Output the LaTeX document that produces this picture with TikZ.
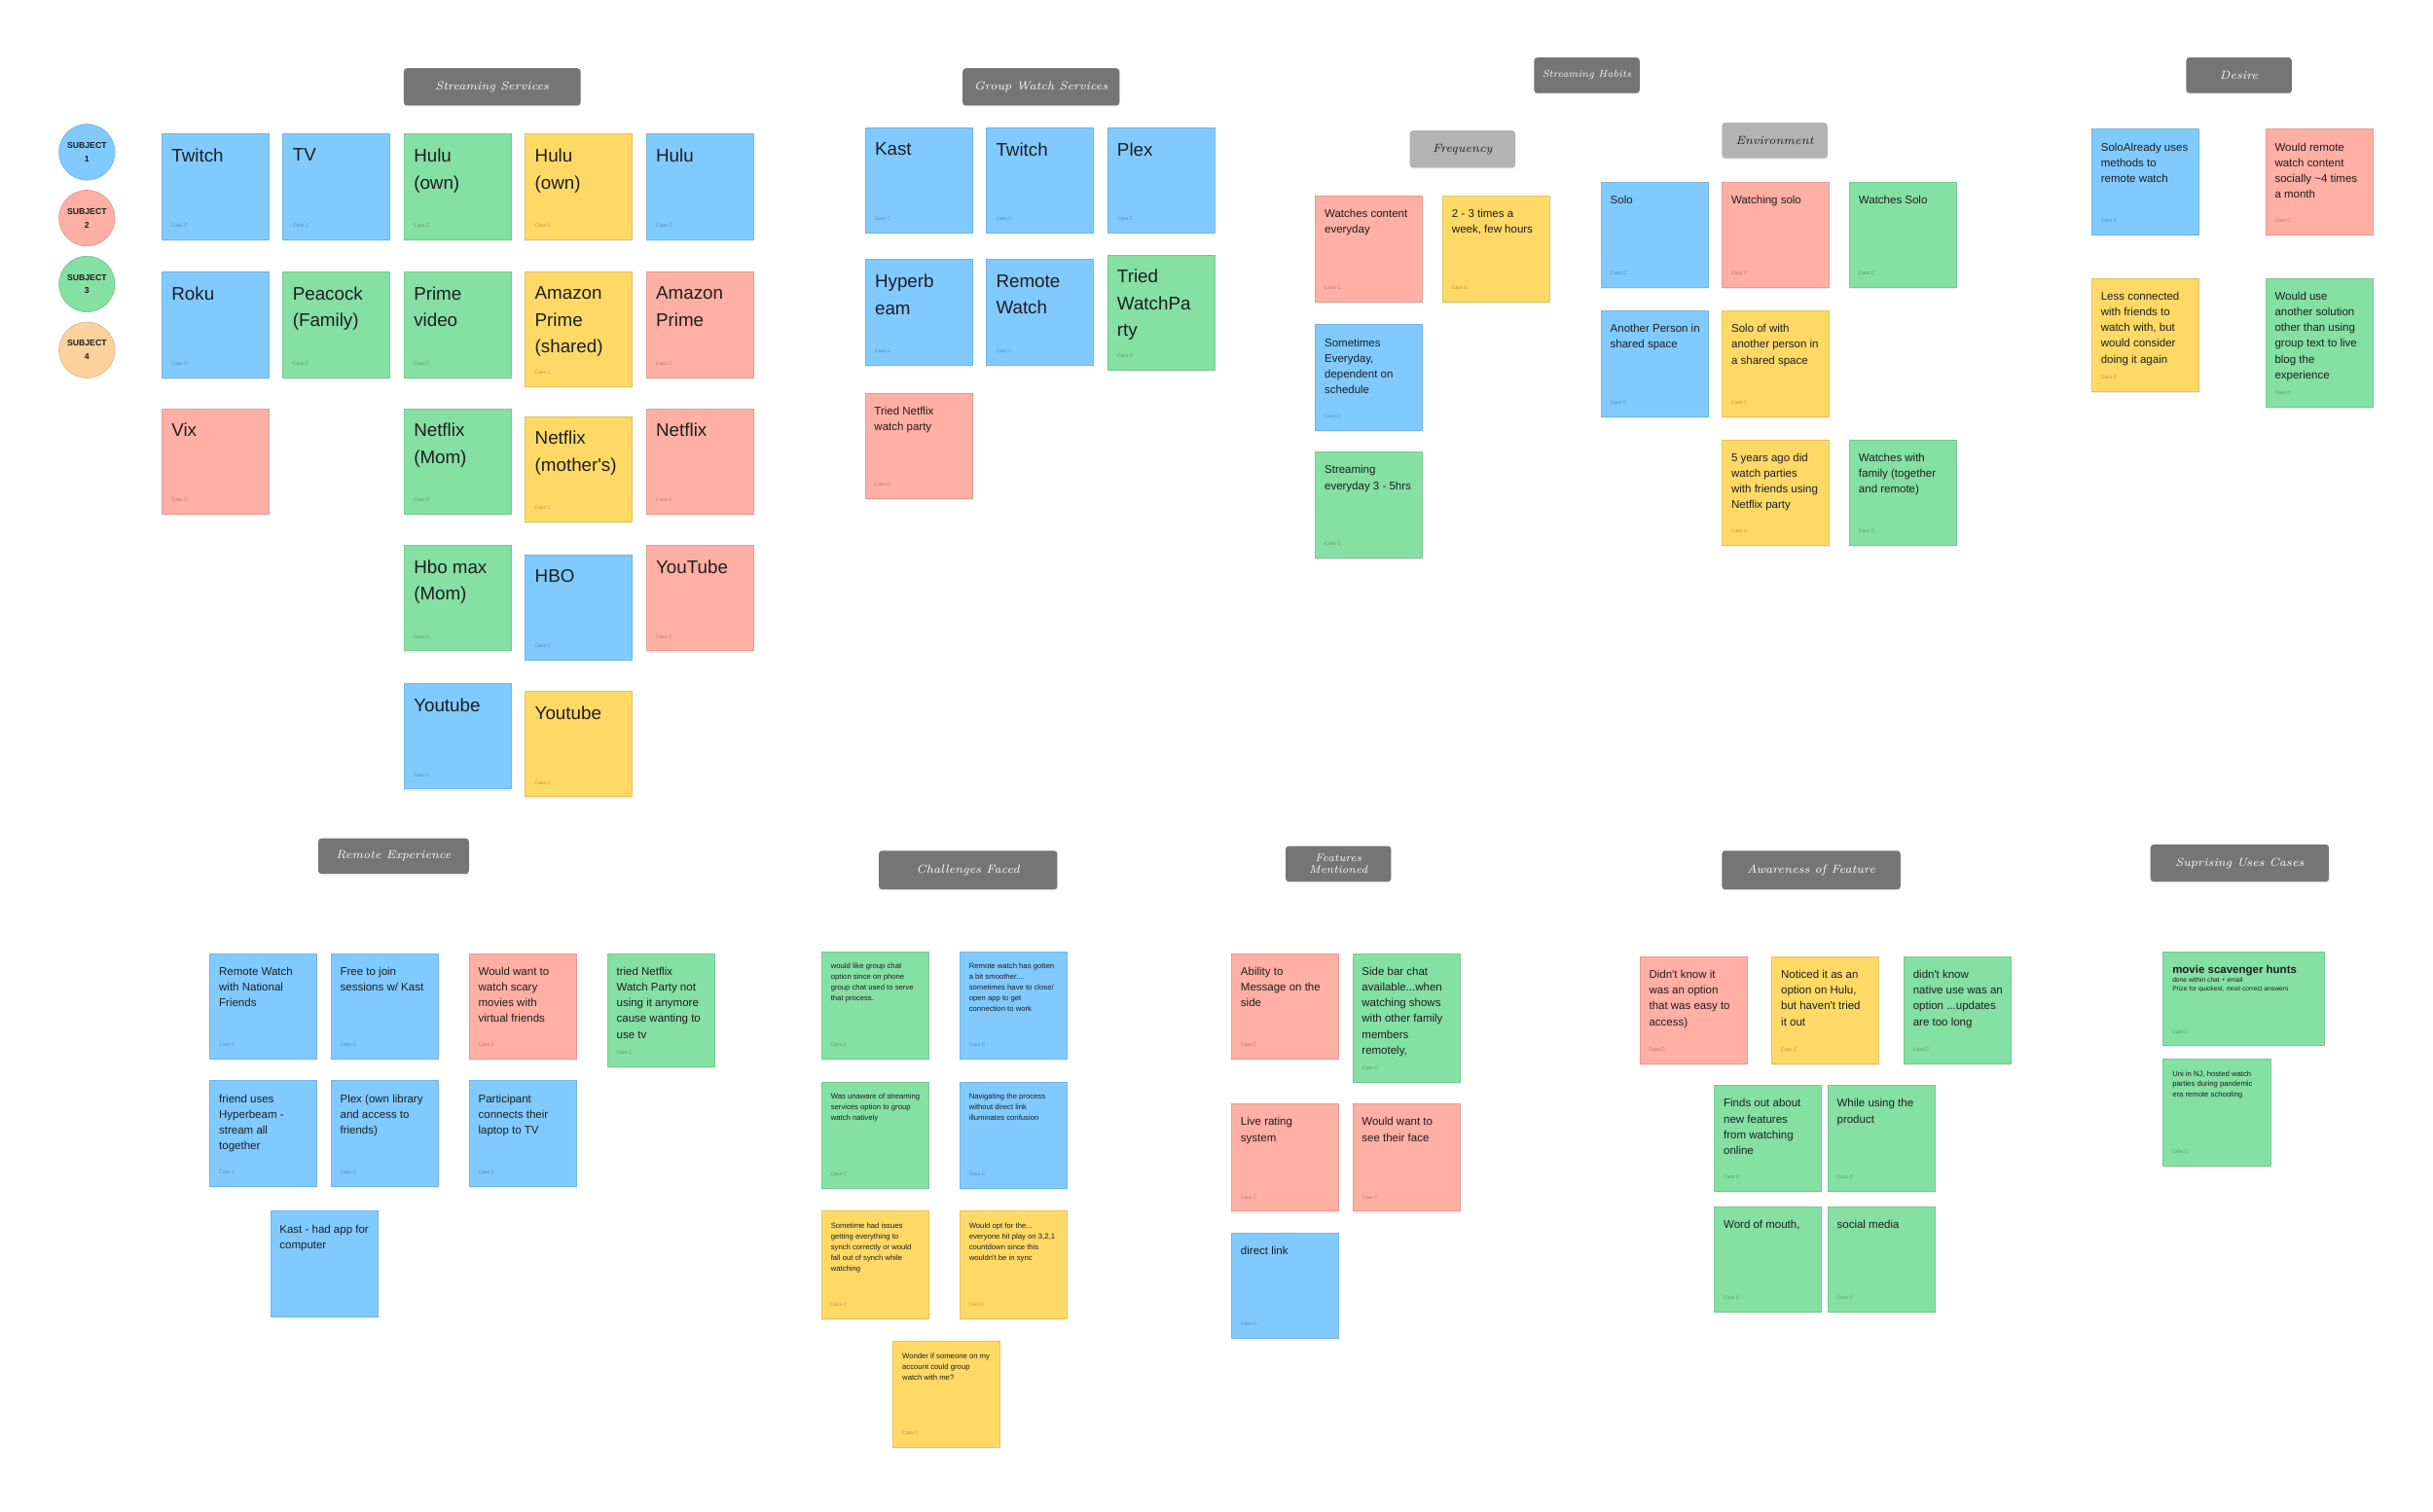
\documentclass[tikz,border=0pt]{standalone}
\usepackage{fontspec}
\newfontfamily\stkfont{Liberation Sans}
\usetikzlibrary{shadows}
\definecolor{sblue}{HTML}{80CAFF}
\definecolor{sgreen}{HTML}{85E0A3}
\definecolor{syellow}{HTML}{FFD966}
\definecolor{sred}{HTML}{FFAFA3}
\definecolor{speach}{HTML}{FCD19C}
\definecolor{hdark}{HTML}{757575}
\definecolor{hlight}{HTML}{B3B3B3}
\definecolor{ink}{HTML}{1E1E1E}
\def\pxB{0.124cm}\def\pyB{0.19cm}
\def\pxM{0.116cm}\def\pyM{0.172cm}
\def\pxS{0.116cm}\def\pyS{0.148cm}
\tikzset{
  sticky/.style={rectangle, inner sep=0pt, minimum width=1.38cm, anchor=north west, line width=0.12pt,
    drop shadow={opacity=0.14, shadow xshift=0pt, shadow yshift=-0.7pt}},
  txtB/.style={anchor=north west, inner sep=0pt, align=left, text=ink, font=\stkfont\fontsize{6.7}{9.8}\selectfont},
  txtM/.style={anchor=north west, inner sep=0pt, align=left, text=ink, font=\stkfont\fontsize{4.1}{5.8}\selectfont},
  txtS/.style={anchor=north west, inner sep=0pt, align=left, text=ink, font=\stkfont\fontsize{2.75}{3.9}\selectfont},
  cass/.style={anchor=base west, inner sep=0pt, text=black, text opacity=0.32, font=\stkfont\fontsize{1.8}{2}\selectfont},
  hdr/.style={rectangle, rounded corners=1.2pt, inner sep=0pt, fill=hdark, text=white, align=center,
    font=\itshape\fontsize{4.3}{4.4}\selectfont, drop shadow={opacity=0.12, shadow xshift=0pt, shadow yshift=-0.5pt}},
  hdrlight/.style={hdr, fill=hlight, text=ink},
  subj/.style={circle, minimum size=0.72cm, inner sep=0pt, align=center, text=ink, line width=0.2pt,
    font=\stkfont\bfseries\fontsize{3.1}{4.9}\selectfont},
}
% sticky: name, x, ytop, height, colour, kind, text
\newcommand\stk[7]{%
  \node[sticky, fill=#5, draw=#5!90!black, minimum height={#4*0.02cm}] (#1) at (#2,#3) {};
  \node[txt#6] (#1t) at ([xshift=\csname px#6\endcsname, yshift=-\csname py#6\endcsname]#1.north west) {#7};
  \node[cass] (#1c) at ([xshift=\csname px#6\endcsname, yshift=0.16cm]#1.south west) {Cass C};}
\newcommand\stkn[7]{%
  \node[sticky, fill=#5, draw=#5!90!black, minimum height={#4*0.02cm}] (#1) at (#2,#3) {};
  \node[txt#6] (#1t) at ([xshift=\csname px#6\endcsname, yshift=-\csname py#6\endcsname]#1.north west) {#7};}
% header: name, cx, cy, w, h, style, text
\newcommand\hdrbox[7]{%
  \node[#6, minimum width={#4*0.02cm}, minimum height={#5*0.02cm}] (#1) at (#2,#3) {#7};}
\begin{document}
\begin{tikzpicture}[x=0.02cm, y=-0.02cm]
\useasboundingbox (0,0) rectangle (1567,974);
\fill[white] (0,0) rectangle (1567,974);

% ---------- headers ----------
\hdrbox{hss}{317}{56}{114}{24}{hdr}{Streaming Services}
\hdrbox{hgw}{670.5}{56}{101}{24}{hdr}{Group Watch Services}
\hdrbox{hsh}{1022}{48.5}{68}{23}{hdr, font=\itshape\fontsize{3.7}{4}\selectfont}{Streaming Habits}
\hdrbox{hfq}{942}{96}{68}{24}{hdrlight}{Frequency}
\hdrbox{hen}{1143}{90.5}{68}{23}{hdrlight}{Environment}
\hdrbox{hde}{1442}{48.5}{68}{23}{hdr}{Desire}
\hdrbox{hre}{253.5}{551.5}{97}{23}{hdr}{Remote Experience}
\hdrbox{hch}{623.5}{560.5}{115}{25}{hdr}{Challenges Faced}
\node[hdr, minimum width=1.36cm, minimum height=0.46cm, font=\itshape\fontsize{4}{4.4}\selectfont] (hfe) at (862,556.5) {Features\\Mentioned};
\hdrbox{haw}{1166.5}{560.5}{115}{25}{hdr}{Awareness of Feature}
\hdrbox{hsu}{1442.5}{556}{115}{24}{hdr}{Suprising Uses Cases}

% ---------- subjects ----------
\node[subj, fill=sblue, draw=sblue!85!black] (sub1) at (56,98) {SUBJECT\\1};
\node[subj, fill=sred, draw=sred!85!black] (sub2) at (56,140.5) {SUBJECT\\2};
\node[subj, fill=sgreen, draw=sgreen!85!black] (sub3) at (56,183) {SUBJECT\\3};
\node[subj, fill=speach, draw=speach!85!black] (sub4) at (56,225.5) {SUBJECT\\4};

% ---------- streaming services ----------
\stk{ss1}{104}{86}{68}{sblue}{B}{Twitch}
\stk{ss2}{182}{86}{68}{sblue}{B}{TV}
\stk{ss3}{260}{86}{68}{sgreen}{B}{Hulu\\(own)}
\stk{ss4}{338}{86}{68}{syellow}{B}{Hulu\\(own)}
\stk{ss5}{416}{86}{68}{sblue}{B}{Hulu}
\stk{ss6}{104}{175}{68}{sblue}{B}{Roku}
\stk{ss7}{182}{175}{68}{sgreen}{B}{Peacock\\(Family)}
\stk{ss8}{260}{175}{68}{sgreen}{B}{Prime\\video}
\stk{ss9}{338}{175}{74}{syellow}{B}{Amazon\\Prime\\(shared)}
\stk{ss10}{416}{175}{68}{sred}{B}{Amazon\\Prime}
\stk{ss11}{104}{263}{68}{sred}{B}{Vix}
\stk{ss12}{260}{263}{68}{sgreen}{B}{Netflix\\(Mom)}
\stk{ss13}{338}{268}{68}{syellow}{B}{Netflix\\(mother's)}
\stk{ss14}{416}{263}{68}{sred}{B}{Netflix}
\stk{ss15}{260}{351}{68}{sgreen}{B}{Hbo max\\(Mom)}
\stk{ss16}{338}{357}{68}{sblue}{B}{HBO}
\stk{ss17}{416}{351}{68}{sred}{B}{YouTube}
\stk{ss18}{260}{440}{68}{sblue}{B}{Youtube}
\stk{ss19}{338}{445}{68}{syellow}{B}{Youtube}

% ---------- group watch services ----------
\stk{gw1}{557}{82}{68}{sblue}{B}{Kast}
\stk{gw2}{635}{82}{68}{sblue}{B}{Twitch}
\stk{gw3}{713}{82}{68}{sblue}{B}{Plex}
\stk{gw4}{557}{167}{68}{sblue}{B}{Hyperb\\eam}
\stk{gw5}{635}{167}{68}{sblue}{B}{Remote\\Watch}
\stk{gw6}{713}{164}{74}{sgreen}{B}{Tried\\WatchPa\\rty}
\stk{gw7}{557}{253}{68}{sred}{M}{Tried Netflix\\watch party}

% ---------- streaming habits: frequency ----------
\stk{fq1}{847}{126}{68}{sred}{M}{Watches content\\everyday}
\stk{fq2}{929}{126}{68}{syellow}{M}{2 - 3 times a\\week, few hours}
\stk{fq3}{847}{209}{68}{sblue}{M}{Sometimes\\Everyday,\\dependent on\\schedule}
\stk{fq4}{847}{291}{68}{sgreen}{M}{Streaming\\everyday 3 - 5hrs}

% ---------- streaming habits: environment ----------
\stk{en1}{1031}{117}{68}{sblue}{M}{Solo}
\stk{en2}{1109}{117}{68}{sred}{M}{Watching solo}
\stk{en3}{1191}{117}{68}{sgreen}{M}{Watches Solo}
\stk{en4}{1031}{200}{68}{sblue}{M}{Another Person in\\shared space}
\stk{en5}{1109}{200}{68}{syellow}{M}{Solo of with\\another person in\\a shared space}
\stk{en6}{1109}{283}{68}{syellow}{M}{5 years ago did\\watch parties\\with friends using\\Netflix party}
\stk{en7}{1191}{283}{68}{sgreen}{M}{Watches with\\family (together\\and remote)}

% ---------- desire ----------
\stk{de1}{1347}{83}{68}{sblue}{M}{SoloAlready uses\\methods to\\remote watch}
\stk{de2}{1459}{83}{68}{sred}{M}{Would remote\\watch content\\socially \textasciitilde4 times\\a month}
\stk{de3}{1347}{179}{73}{syellow}{M}{Less connected\\with friends to\\watch with, but\\would consider\\doing it again}
\stk{de4}{1459}{179}{83}{sgreen}{M}{Would use\\another solution\\other than using\\group text to live\\blog the\\experience}

% ---------- remote experience ----------
\stk{re1}{135}{614}{68}{sblue}{M}{Remote Watch\\with National\\Friends}
\stk{re2}{213}{614}{68}{sblue}{M}{Free to join\\sessions w/ Kast}
\stk{re3}{302}{614}{68}{sred}{M}{Would want to\\watch scary\\movies with\\virtual friends}
\stk{re4}{391}{614}{73}{sgreen}{M}{tried Netflix\\Watch Party not\\using it anymore\\cause wanting to\\use tv}
\stk{re5}{135}{696}{68}{sblue}{M}{friend uses\\Hyperbeam -\\stream all\\together}
\stk{re6}{213}{696}{68}{sblue}{M}{Plex (own library\\and access to\\friends)}
\stk{re7}{302}{696}{68}{sblue}{M}{Participant\\connects their\\laptop to TV}
\stkn{re8}{174}{780}{68}{sblue}{M}{Kast - had app for\\computer}

% ---------- challenges faced ----------
\stk{ch1}{529}{613}{69}{sgreen}{S}{would like group chat\\option since on phone\\group chat used to serve\\that process.}
\stk{ch2}{618}{613}{69}{sblue}{S}{Remote watch has gotten\\a bit smoother....\\sometimes have to close/\\open app to get\\connection to work}
\stk{ch3}{529}{697}{68}{sgreen}{S}{Was unaware of streaming\\services option to group\\watch natively}
\stk{ch4}{618}{697}{68}{sblue}{S}{Navigating the process\\without direct link\\illuminates confusion}
\stk{ch5}{529}{780}{69}{syellow}{S}{Sometime had issues\\getting everything to\\synch correctly or would\\fall out of synch while\\watching}
\stk{ch6}{618}{780}{69}{syellow}{S}{Would opt for the...\\everyone hit play on 3,2,1\\countdown since this\\wouldn't be in sync}
\stk{ch7}{575}{864}{68}{syellow}{S}{Wonder if someone on my\\account could group\\watch with me?}

% ---------- features mentioned ----------
\stk{fe1}{793}{614}{68}{sred}{M}{Ability to\\Message on the\\side}
\stk{fe2}{871}{614}{83}{sgreen}{M}{Side bar chat\\available...when\\watching shows\\with other family\\members\\remotely,}
\stk{fe3}{793}{711}{69}{sred}{M}{Live rating\\system}
\stk{fe4}{871}{711}{69}{sred}{M}{Would want to\\see their face}
\stk{fe5}{793}{794}{68}{sblue}{M}{direct link}

% ---------- awareness of feature ----------
\stk{aw1}{1056}{616}{69}{sred}{M}{Didn't know it\\was an option\\that was easy to\\access)}
\stk{aw2}{1141}{616}{69}{syellow}{M}{Noticed it as an\\option on Hulu,\\but haven't tried\\it out}
\stk{aw3}{1226}{616}{69}{sgreen}{M}{didn't know\\native use was an\\option ...updates\\are too long}
\stk{aw4}{1104}{699}{68}{sgreen}{M}{Finds out about\\new features\\from watching\\online}
\stk{aw5}{1177}{699}{68}{sgreen}{M}{While using the\\product}
\stk{aw6}{1104}{777}{68}{sgreen}{M}{Word of mouth,}
\stk{aw7}{1177}{777}{68}{sgreen}{M}{social media}

% ---------- surprising uses cases ----------
\node[sticky, fill=sgreen, draw=sgreen!90!black, minimum width=2.08cm, minimum height=1.2cm] (su1) at (1393,613) {};
\node[anchor=north west, inner sep=0pt, align=left, text=ink, font=\stkfont\bfseries\fontsize{4.1}{4.6}\selectfont] (su1t) at ([xshift=0.116cm, yshift=-0.166cm]su1.north west) {movie scavenger hunts};
\node[anchor=north west, inner sep=0pt, align=left, text=ink, font=\stkfont\fontsize{2.4}{3.46}\selectfont] (su1s) at ([xshift=0.116cm, yshift=-0.324cm]su1.north west) {done within chat + email\\Prize for quickest, most correct answers};
\node[cass] (su1c) at ([xshift=0.116cm, yshift=0.14cm]su1.south west) {Cass C};
\stk{su2}{1393}{682}{69}{sgreen}{S}{Uni in NJ, hosted watch\\parties during pandemic\\era remote schooling}
\end{tikzpicture}
\end{document}
